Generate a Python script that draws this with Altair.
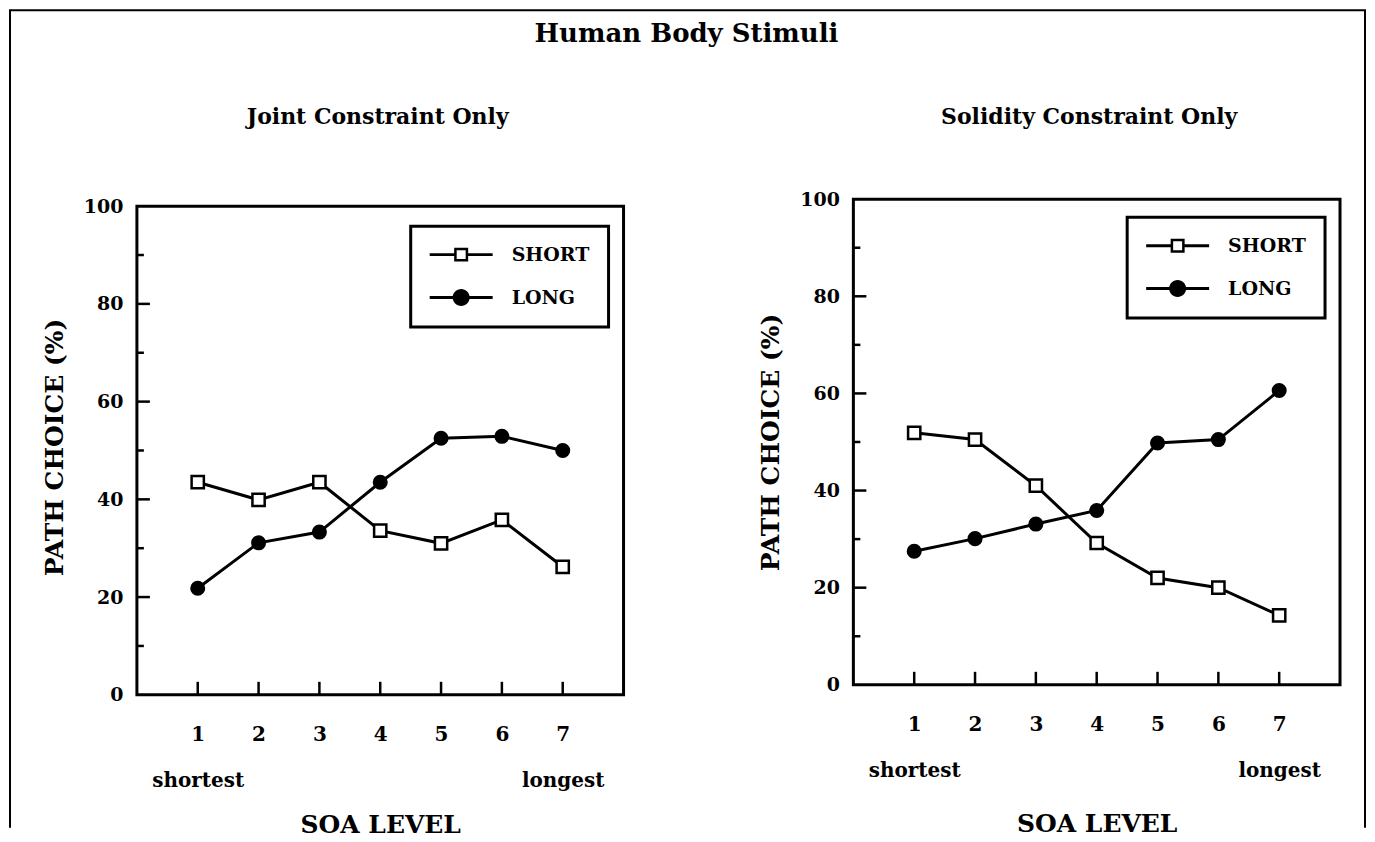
import altair as alt
import pandas as pd

levels = [1, 2, 3, 4, 5, 6, 7]
joint_short = [43.5, 39.9, 43.5, 33.6, 31.0, 35.8, 26.2]
joint_long = [21.8, 31.1, 33.3, 43.5, 52.5, 52.9, 50.0]
solid_short = [51.9, 50.5, 41.0, 29.2, 22.0, 20.0, 14.3]
solid_long = [27.5, 30.1, 33.1, 35.9, 49.8, 50.5, 60.6]
series = ["SHORT", "LONG"]
major_ticks = [20, 40, 60, 80]
minor_ticks = [10, 30, 50, 70, 90]
y_labels = [0, 20, 40, 60, 80, 100]
main_title = "Human Body Stimuli"

FONT = "DejaVu Serif"
W = 487
# legend glyphs: line segment + open square / line segment + filled dot (filled outlines)
SQ_PATH = ("M-5.25,-0.25H-1.167V0.25H-5.25Z M1.167,-0.25H5.25V0.25H1.167Z "
           "M-1.167,-1.167H1.167V1.167H-1.167Z M-0.75,-0.75V0.75H0.75V-0.75Z")
CI_PATH = ("M-5.25,-0.25H5.25V0.25H-5.25Z "
           "M-1.417,0A1.417,1.417,0,1,1,1.417,0A1.417,1.417,0,1,1,-1.417,0Z")
LABEL_EXPR = ("datum.value == 1 ? ['1', 'shortest'] : "
              "(datum.value == 7 ? ['7', 'longest'] : datum.label)")


def panel(short, long, title, title_x, height, ymax, legend_x, legend_y, xtitle_pad, with_frame):
    df = pd.DataFrame({
        "level": levels * 2,
        "value": short + long,
        "series": ["SHORT"] * len(levels) + ["LONG"] * len(levels),
    })
    xs = alt.Scale(domain=[0, 8], nice=False, zero=False)
    ys = alt.Scale(domain=[0, ymax], nice=False, zero=True)
    x_axis = alt.Axis(values=levels, format="d", title="SOA LEVEL", labelExpr=LABEL_EXPR,
                      domain=False, ticks=False, grid=False, labelPadding=30,
                      labelFontSize=20, labelLineHeight=46, labelOverlap=False,
                      labelFlush=False, titlePadding=xtitle_pad)
    y_axis = alt.Axis(values=y_labels, format="d", title="PATH CHOICE (%)", domain=False,
                      ticks=False, grid=False, labelPadding=14, titlePadding=16)
    XT = "SOA LEVEL"
    YT = "PATH CHOICE (%)"
    base = alt.Chart(df)
    line = base.mark_line(color="black", strokeWidth=3).encode(
        x=alt.X("level:Q", scale=xs, axis=x_axis, title=XT),
        y=alt.Y("value:Q", scale=ys, axis=y_axis, title=YT),
        detail="series:N",
    )
    sq = base.transform_filter(alt.datum.series == "SHORT").mark_point(
        shape="square", filled=True, fill="white", stroke="black",
        strokeWidth=2.5, size=150, opacity=1,
    ).encode(x=alt.X("level:Q", title=XT), y=alt.Y("value:Q", title=YT))
    ci = base.transform_filter(alt.datum.series == "LONG").mark_point(
        shape="circle", filled=True, fill="black", strokeWidth=0,
        size=227, opacity=1,
    ).encode(x=alt.X("level:Q", title=XT), y=alt.Y("value:Q", title=YT))
    leg = alt.Legend(
        orient="none", legendX=legend_x, legendY=legend_y, title=None,
        strokeColor="black", padding=19, symbolOffset=22, labelOffset=41,
        rowPadding=23, labelFont=FONT, labelFontSize=19, labelFontWeight="bold",
        labelColor="black", symbolStrokeWidth=0, symbolSize=144,
        fillColor="white", symbolOpacity=1,
    )
    legend_layer = base.transform_filter("datum.value < 0").mark_point(
        size=144, filled=True, fill="black", strokeWidth=0, opacity=1,
    ).encode(
        x=alt.X("level:Q", title=XT), y=alt.Y("value:Q", title=YT),
        shape=alt.Shape("series:N", scale=alt.Scale(domain=series, range=[SQ_PATH, CI_PATH]), legend=leg),
    )
    one = alt.Chart(pd.DataFrame({"panel": [title]}))
    frame = one.mark_rect(fillOpacity=0, stroke="black", strokeWidth=3).encode(
        x=alt.datum(0), x2=alt.datum(8), y=alt.datum(0), y2=alt.datum(100),
    )
    ymaj = alt.Chart(pd.DataFrame({"t": major_ticks})).mark_rule(color="black", strokeWidth=2.5).encode(
        y=alt.Y("t:Q", title=YT), x=alt.value(0), x2=alt.value(13))
    ymin = alt.Chart(pd.DataFrame({"t": minor_ticks})).mark_rule(color="black", strokeWidth=2.5).encode(
        y=alt.Y("t:Q", title=YT), x=alt.value(0), x2=alt.value(7))
    xt = alt.Chart(pd.DataFrame({"t": levels})).mark_rule(color="black", strokeWidth=2.5).encode(
        x=alt.X("t:Q", title=XT), y=alt.value(height), y2=alt.value(height - 13))
    sub = one.mark_text(font=FONT, fontSize=22, fontWeight="bold", color="black",
                        align="center", baseline="middle").encode(
        text="panel:N", x=alt.value(title_x), y=alt.value(-82))
    layers = [frame, ymaj, ymin, xt, line, sq, ci, legend_layer, sub]
    if with_frame:
        head = alt.Chart(pd.DataFrame({"t": [main_title]})).mark_text(
            font=FONT, fontSize=26, fontWeight="bold", color="black",
            align="center", baseline="middle").encode(
            text="t:N", x=alt.value(550), y=alt.value(-165))
        top_rule = one.mark_rule(color="black", strokeWidth=2, strokeCap="square").encode(
            x=alt.value(-127), x2=alt.value(1229), y=alt.value(-189))
        left_rule = one.mark_rule(color="black", strokeWidth=2).encode(
            x=alt.value(-127), y=alt.value(-189), y2=alt.value(629))
        right_rule = one.mark_rule(color="black", strokeWidth=2).encode(
            x=alt.value(1229), y=alt.value(-189), y2=alt.value(629))
        layers += [head, top_rule, left_rule, right_rule]
    return alt.layer(*layers).properties(width=W, height=height)


left = panel(joint_short, joint_long, "Joint Constraint Only", 241, 496, 100 * 496 / 489,
             274, 27, 22, True)
right = panel(solid_short, solid_long, "Solidity Constraint Only", 236, 486, 100,
              274, 18, 31, False)

chart = alt.hconcat(left, right, spacing=230, bounds="flush").resolve_scale(
    x="independent", y="independent", shape="independent"
).resolve_legend(shape="independent").properties(padding=0).configure_view(
    stroke=None
).configure_axis(
    labelFont=FONT, labelFontSize=19, labelFontWeight="bold", labelColor="black",
    titleFont=FONT, titleFontSize=25, titleFontWeight="bold", titleColor="black",
).configure_legend(strokeWidth=3)

chart.save("out.html", embed_options={"renderer": "svg", "actions": False})
